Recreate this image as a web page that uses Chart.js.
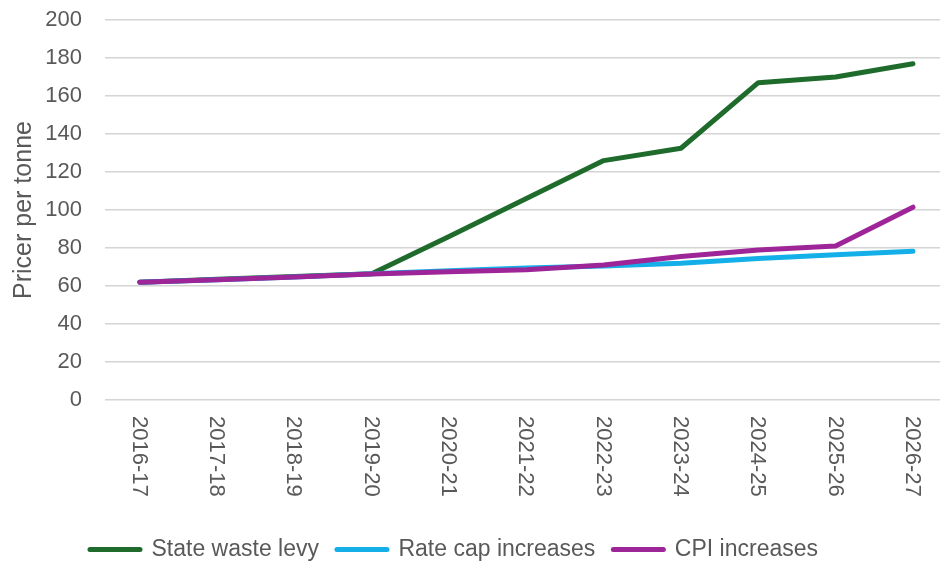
<!DOCTYPE html>
<html>
<head>
<meta charset="utf-8">
<title>Price per tonne</title>
<script src="https://cdn.jsdelivr.net/npm/chart.js@4/dist/chart.umd.min.js"></script>
<style>
  html, body { margin: 0; padding: 0; background: #ffffff; }
  #wrap { width: 940px; height: 561px; }
</style>
</head>
<body>
<div id="wrap"><canvas id="chart" width="940" height="561"></canvas></div>
<script>
// Financial years along the horizontal axis
const years = ['2016-17', '2017-18', '2018-19', '2019-20', '2020-21', '2021-22',
               '2022-23', '2023-24', '2024-25', '2025-26', '2026-27'];

// Price per tonne ($) for each scenario
const stateWasteLevy    = [62, 63.5, 65, 66.5, 86, 106, 126, 132.5, 167, 170, 177];
const rateCapIncreases  = [62, 63.3, 64.8, 66.5, 68, 69.5, 70.5, 72, 74.5, 76.5, 78.3];
const cpiIncreases      = [62, 63.3, 64.8, 66.3, 67.5, 68.5, 71, 75.5, 79, 81, 101.5];

// Vertical axis ticks
const yTicks = [0, 20, 40, 60, 80, 100, 120, 140, 160, 180, 200];

const fontFamily = "'Liberation Sans', Arial, sans-serif";
const axisFont = { family: fontFamily, size: 22 };
const textColor = '#595959';

const toPoints = (values) => values.map((v, i) => ({ x: i, y: v }));

// Year labels written downwards beneath the plot
const yearLabels = {
  id: 'yearLabels',
  afterDraw(chart) {
    const { ctx, scales: { x }, chartArea } = chart;
    ctx.save();
    ctx.fillStyle = textColor;
    ctx.font = `${axisFont.size}px ${axisFont.family}`;
    ctx.textAlign = 'left';
    ctx.textBaseline = 'middle';
    years.forEach((label, i) => {
      ctx.save();
      ctx.translate(x.getPixelForValue(i) - 1, chartArea.bottom + 16);
      ctx.rotate(Math.PI / 2);
      ctx.fillText(label, 0, 0);
      ctx.restore();
    });
    ctx.restore();
  }
};

// Nudge the legend row slightly left and down
const legendOffset = {
  id: 'legendOffset',
  afterLayout(chart) {
    const lg = chart.legend;
    if (!lg) return;
    lg.left -= 16;
    lg.right -= 16;
    lg.top += 10;
    lg.bottom += 10;
  }
};

const series = [
  { label: 'State waste levy',   values: stateWasteLevy,   color: '#1e6b2c', order: 2 },
  { label: 'Rate cap increases', values: rateCapIncreases, color: '#14afe8', order: 1 },
  { label: 'CPI increases',      values: cpiIncreases,     color: '#9d2597', order: 0 }
];

new Chart(document.getElementById('chart'), {
  type: 'line',
  data: {
    datasets: series.map(s => ({
      label: s.label,
      data: toPoints(s.values),
      borderColor: s.color,
      backgroundColor: s.color,
      borderWidth: 5,
      borderCapStyle: 'round',
      borderJoinStyle: 'round',
      pointRadius: 0,
      pointHoverRadius: 0,
      tension: 0,
      order: s.order
    }))
  },
  options: {
    responsive: false,
    animation: false,
    devicePixelRatio: 1,
    layout: { padding: { top: 20, right: 0, bottom: 0, left: 0 } },
    scales: {
      x: {
        type: 'linear',
        min: -0.45,
        max: 10.35,
        grid: { display: false },
        border: { display: false },
        ticks: { display: false },
        afterBuildTicks(scale) {
          scale.ticks = years.map((_, i) => ({ value: i }));
        },
        afterFit(scale) { scale.height = 110; }
      },
      y: {
        min: 0,
        max: 200,
        grid: { color: '#d4d4d4', lineWidth: 1.5, drawTicks: false },
        border: { display: false },
        afterBuildTicks(scale) {
          scale.ticks = yTicks.map(v => ({ value: v }));
        },
        ticks: { color: textColor, font: axisFont, padding: 23 },
        title: {
          display: true,
          text: 'Pricer per tonne',
          color: textColor,
          font: { family: fontFamily, size: 25 },
          padding: { top: 9, bottom: 0 }
        },
        afterFit(scale) {
          scale.width = 105;
          scale.paddingTop = 0;
          scale.paddingBottom = 0;
        }
      }
    },
    plugins: {
      legend: {
        position: 'bottom',
        labels: {
          usePointStyle: true,
          pointStyle: 'line',
          pointStyleWidth: 50,
          color: textColor,
          font: { family: fontFamily, size: 23 },
          padding: 18,
          generateLabels(chart) {
            return Chart.defaults.plugins.legend.labels.generateLabels(chart)
              .map(item => Object.assign(item, { lineCap: 'round', lineWidth: 5 }));
          },
          sort: (a, b) => a.datasetIndex - b.datasetIndex
        }
      },
      tooltip: { enabled: false }
    }
  },
  plugins: [yearLabels, legendOffset]
});
</script>
</body>
</html>
